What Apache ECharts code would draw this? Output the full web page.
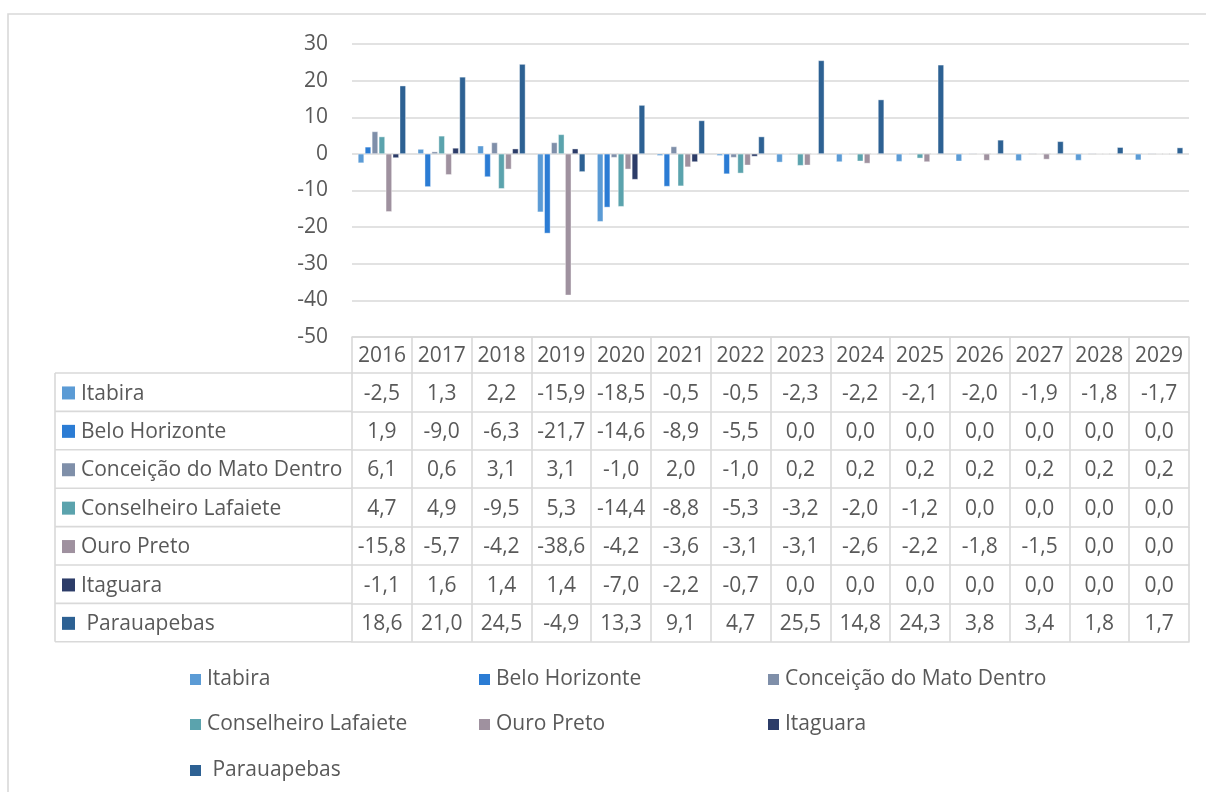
<!DOCTYPE html>
<html>
<head>
<meta charset="utf-8">
<title>Variação anual por município</title>
<script src="https://cdn.jsdelivr.net/npm/echarts@6/dist/echarts.min.js"></script>
<style>
  html, body { margin: 0; padding: 0; background: #ffffff; }
  #chart { width: 1206px; height: 792px; }
</style>
</head>
<body>
<div id="chart"></div>
<script>
// Categories (years)
const years = ['2016','2017','2018','2019','2020','2021','2022','2023','2024','2025','2026','2027','2028','2029'];

// Series names
const seriesNames = ['Itabira', 'Belo Horizonte', 'Conceição do Mato Dentro', 'Conselheiro Lafaiete', 'Ouro Preto', 'Itaguara', ' Parauapebas'];

// Series values
const itabira       = [-2.5, 1.3, 2.2, -15.9, -18.5, -0.5, -0.5, -2.3, -2.2, -2.1, -2.0, -1.9, -1.8, -1.7];
const beloHorizonte = [1.9, -9.0, -6.3, -21.7, -14.6, -8.9, -5.5, 0.0, 0.0, 0.0, 0.0, 0.0, 0.0, 0.0];
const conceicao     = [6.1, 0.6, 3.1, 3.1, -1.0, 2.0, -1.0, 0.2, 0.2, 0.2, 0.2, 0.2, 0.2, 0.2];
const lafaiete      = [4.7, 4.9, -9.5, 5.3, -14.4, -8.8, -5.3, -3.2, -2.0, -1.2, 0.0, 0.0, 0.0, 0.0];
const ouroPreto     = [-15.8, -5.7, -4.2, -38.6, -4.2, -3.6, -3.1, -3.1, -2.6, -2.2, -1.8, -1.5, 0.0, 0.0];
const itaguara      = [-1.1, 1.6, 1.4, 1.4, -7.0, -2.2, -0.7, 0.0, 0.0, 0.0, 0.0, 0.0, 0.0, 0.0];
const parauapebas   = [18.6, 21.0, 24.5, -4.9, 13.3, 9.1, 4.7, 25.5, 14.8, 24.3, 3.8, 3.4, 1.8, 1.7];

// Value axis ticks
const yMin = -50, yMax = 30, yStep = 10;

const seriesValues = [itabira, beloHorizonte, conceicao, lafaiete, ouroPreto, itaguara, parauapebas];
const colors = ['#5B9BD5', '#2B7CD4', '#7F8FA9', '#5BA3AD', '#9F919F', '#2C3C68', '#2D6193'];

// Layout
const FONT = '"Open Sans", sans-serif';
const FS = 21;
const TEXT = '#595959';
const LINE = '#d9d9d9';
const GRID_LEFT = 352, GRID_RIGHT = 17, GRID_TOP = 44, GRID_BOTTOM_Y = 337;
const HEADER_H = 36, ROW_H = 38.4;
const TABLE_LEFT = 55;
const TEXT_DY = 1.5;

const fmt = v => v.toFixed(1).replace('.', ',');

const lineStyle = { color: LINE, width: 1.6 };

// Header row (years) and one axis per data-table row
const xAxes = [{
  type: 'category', data: years, gridIndex: 0, position: 'bottom', offset: 0,
  axisLine: { show: true, onZero: false, lineStyle },
  axisTick: { show: true, interval: 0, length: HEADER_H, lineStyle },
  axisLabel: { interval: 0, margin: HEADER_H / 2 + TEXT_DY, verticalAlign: 'middle', fontFamily: FONT, fontSize: FS, color: TEXT }
}];
seriesValues.forEach((vals, k) => {
  xAxes.push({
    type: 'category', data: years, gridIndex: 0, position: 'bottom', offset: HEADER_H + k * ROW_H,
    axisLine: { show: true, onZero: false, lineStyle },
    axisTick: { show: true, interval: 0, length: ROW_H, lineStyle },
    axisLabel: {
      interval: 0, margin: ROW_H / 2 + TEXT_DY, verticalAlign: 'middle',
      fontFamily: FONT, fontSize: FS, color: TEXT,
      formatter: (v, i) => fmt(vals[i])
    }
  });
});
// bottom border of the table
xAxes.push({
  type: 'category', data: years, gridIndex: 0, position: 'bottom', offset: HEADER_H + seriesValues.length * ROW_H,
  axisLine: { show: true, onZero: false, lineStyle },
  axisTick: { show: false }, axisLabel: { show: false }
});

// Row headers of the data table (left column)
const tableTop = GRID_BOTTOM_Y + HEADER_H;
const tableBottom = tableTop + seriesNames.length * ROW_H;
const graphics = [
  { type: 'rect', shape: { x: 8, y: 14, width: 1400, height: 1000 },
    style: { fill: 'none', stroke: LINE, lineWidth: 1.6 }, silent: true, z: -1 },
  { type: 'line', shape: { x1: TABLE_LEFT, y1: tableTop, x2: TABLE_LEFT, y2: tableBottom },
    style: { stroke: LINE, lineWidth: 1.6 }, silent: true }
];
for (let k = 0; k <= seriesNames.length; k++) {
  const y = tableTop + k * ROW_H;
  graphics.push({ type: 'line', shape: { x1: TABLE_LEFT, y1: y, x2: GRID_LEFT, y2: y },
    style: { stroke: LINE, lineWidth: 1.6 }, silent: true });
}
seriesNames.forEach((name, k) => {
  const cy = tableTop + k * ROW_H + ROW_H / 2;
  graphics.push({ type: 'rect', shape: { x: 62, y: cy - 6.5 + TEXT_DY / 2, width: 13, height: 13 },
    style: { fill: colors[k] }, silent: true });
  graphics.push({ type: 'text', x: 81, y: cy + TEXT_DY,
    style: { text: name, fontFamily: FONT, fontSize: FS, fill: TEXT, verticalAlign: 'middle', align: 'left' },
    silent: true });
});

// Legend, three items per row
const legendCols = [188, 477, 766];
const legendRows = [669, 714, 760];
const legends = seriesNames.map((name, k) => ({
  data: [name], left: legendCols[k % 3], top: legendRows[Math.floor(k / 3)],
  padding: 0, icon: 'rect', itemWidth: 13, itemHeight: 13, selectedMode: false,
  textStyle: { fontFamily: FONT, fontSize: FS, color: TEXT }
}));

const chart = echarts.init(document.getElementById('chart'), null, { renderer: 'canvas' });
chart.setOption({
  animation: false,
  backgroundColor: '#ffffff',
  color: colors,
  textStyle: { fontFamily: FONT },
  grid: { left: GRID_LEFT, right: GRID_RIGHT, top: GRID_TOP, bottom: 792 - GRID_BOTTOM_Y, containLabel: false },
  legend: legends,
  xAxis: xAxes,
  yAxis: {
    type: 'value', min: yMin, max: yMax, interval: yStep,
    axisLine: { show: false }, axisTick: { show: false },
    axisLabel: { margin: 24, fontFamily: FONT, fontSize: FS, color: TEXT },
    splitLine: { show: true, lineStyle }
  },
  graphic: graphics,
  series: seriesNames.map((name, k) => ({
    name, type: 'bar', xAxisIndex: 0, yAxisIndex: 0,
    data: seriesValues[k], barWidth: 6, barGap: '16%',
    itemStyle: { color: colors[k], borderColor: '#ffffff', borderWidth: 0.4 }
  }))
});
</script>
</body>
</html>
